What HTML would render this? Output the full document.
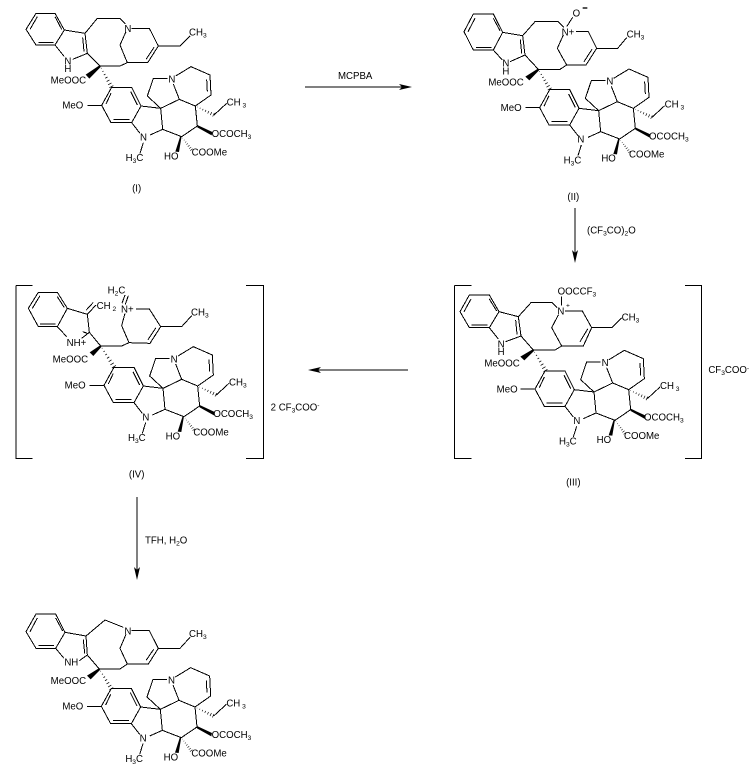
<!DOCTYPE html>
<html><head><meta charset="utf-8"><style>
html,body{margin:0;padding:0;background:#fff;width:751px;height:772px;overflow:hidden}
svg{display:block}
text{font-family:"Liberation Sans",Arial,sans-serif;font-size:29px;fill:#000}
.b{fill:none;stroke:#000;stroke-width:3;shape-rendering:crispEdges}
.s{font-size:20px}
</style></head><body>
<svg width="751" height="772" viewBox="0 0 751 772" xmlns="http://www.w3.org/2000/svg">
<defs>
<g id="h" fill="none" stroke="#000" stroke-width="2.400"><path d="M8-1V1M19-2V2M30-3V3M41-4V4M52-5V5M63-6V6M73-7V7"/></g>
<g id="low">
<path class="b" d="M305 262L365 262L393 318L365 368L303 368L275 316Z M303 280L288 312 M362 275L382 315 M310 358L358 358 M275 316L232 316 M393 318L452 325L458 388L420 405 M365 368L390 400 M400 428L390 460 M452 325L508 298L556 318L562 378L515 410L458 388 M452 325L412 288L430 235L472 235 M490 252L508 298 M497 228L543 200L600 225L603 285L556 318 M590 238L592 275 M612 345L650 310"/>
<use href="#h" transform="translate(556,318) rotate(25.700) scale(.83)"/>
<use href="#h" transform="translate(515,410) rotate(53) scale(.67)"/>
<polygon points="562,375 562,382 605,406 607,396"/>
<polygon points="515,408 511,408 496,455 507,456"/>
</g>
</defs>

<!-- (I) -->
<g transform="translate(10,0) scale(.33333)">
<use href="#low"/>
<path class="b" d="M78 40L135 40L163 90L135 135L78 135L48 88Z M60 88L82 50 M135 50L155 88 M85 127L130 127 M163 90L225 100L232 160L188 178 M135 135L163 170 M218 112L222 155 M225 100L262 55L330 55L346 72 M348 95L330 135L352 188 M365 85L418 85L445 138L413 188L352 188L330 198L270 198L232 160 M432 142L408 178 M445 138L510 138L540 108"/>
<polygon points="270,195 272,201 238,236 227,224"/>
<use href="#h" transform="translate(270,198) rotate(61.300) scale(.97)"/>
<text x="343" y="96">N</text><text x="537" y="106">CH<tspan class="s" dy="6">3</tspan></text>
<text x="163" y="193">N</text><text x="163" y="216">H</text><text x="122" y="250">MeOOC</text>
<text x="157" y="326">MeO</text><text x="390" y="421">N</text><text x="347" y="483">H<tspan class="s" dy="6">3</tspan><tspan dy="-6">C</tspan></text>
<text x="475" y="247">N</text><text x="650" y="316">CH<tspan class="s" dy="6"> 3</tspan></text>
<text x="605" y="411">OCOCH<tspan class="s" dy="6">3</tspan></text><text x="462" y="478">HO</text><text x="545" y="466">COOMe</text>
<text x="380" y="575" text-anchor="middle">(I)</text>
</g>

<!-- (II) -->
<g transform="translate(450,0) scale(.33333)">
<g transform="translate(-6,7)"><use href="#low"/>
<text x="158" y="326">MeO</text><text x="388" y="421">N</text><text x="347" y="483">H<tspan class="s" dy="6">3</tspan><tspan dy="-6">C</tspan></text>
<text x="475" y="247">N</text><text x="650" y="316">CH<tspan class="s" dy="6"> 3</tspan></text>
<text x="603" y="411">OCOCH<tspan class="s" dy="6">3</tspan></text><text x="460" y="478">HO</text><text x="543" y="466">COOMe</text></g>
<path class="b" d="M70 42L130 42L158 97L130 150L70 150L42 95Z M54 95L75 55 M130 55L150 92 M78 142L125 142 M158 97L218 107L225 165L180 185 M130 150L157 180 M211 118L215 160 M218 107L255 65L325 65L342 82 M340 105L322 145L350 195 M378 95L415 95L440 145L408 195L350 195L330 208L265 208L225 165 M426 148L402 185 M440 145L503 145L530 113 M350 80L368 52"/>
<polygon points="265,205 267,211 238,241 226,230"/>
<use href="#h" transform="translate(265,208) rotate(60) scale(.93)"/>
<rect x="398" y="22" width="14" height="4"/>
<text x="368" y="50">O</text><text x="335" y="106">N+</text><text x="530" y="113">CH<tspan class="s" dy="6">3</tspan></text>
<text x="157" y="200">N</text><text x="157" y="224">H</text><text x="115" y="257">MeOOC</text>
<text x="370" y="600" text-anchor="middle">(II)</text>
</g>

<!-- (III) -->
<g transform="translate(445,275) scale(.33333)">
<g transform="translate(-5,26)"><use href="#low"/>
<text x="160" y="326">MeO</text><text x="390" y="421">N</text><text x="347" y="483">H<tspan class="s" dy="6">3</tspan><tspan dy="-6">C</tspan></text>
<text x="475" y="247">N</text><text x="650" y="316">CH<tspan class="s" dy="6"> 3</tspan></text>
<text x="602" y="411">OCOCH<tspan class="s" dy="6">3</tspan></text><text x="460" y="478">HO</text><text x="542" y="466">COOMe</text></g>
<path class="b" d="M73 60L133 60L162 110L133 158L73 158L45 110Z M57 110L78 72 M133 72L155 108 M80 150L128 150 M162 110L220 125L228 183L182 200 M133 158L160 192 M212 135L216 178 M220 125L258 83L322 83L337 98 M340 120L320 158L350 213 M360 108L412 108L440 158L415 213L350 213L330 225L265 225L228 183 M428 162L405 200 M440 158L500 158L530 128 M350 92L350 65 M28 32L80 32 M28 32V550H80 M720 32H770V550H720"/>
<polygon points="265,222 267,228 238,256 226,245"/>
<use href="#h" transform="translate(265,225) rotate(59.300) scale(.98)"/>
<text x="338" y="58">OOCCF<tspan class="s" dy="6">3</tspan></text><text x="337" y="119">N</text><text class="s" x="363" y="97">+</text><text x="530" y="136">CH<tspan class="s" dy="6">3</tspan></text>
<text x="158" y="217">N</text><text x="158" y="240">H</text><text x="118" y="275">MeOOC</text>
<text x="790" y="294">CF<tspan class="s" dy="6">3</tspan><tspan dy="-6">COO</tspan><tspan class="s" dy="-8">-</tspan></text>
<text x="385" y="631" text-anchor="middle">(III)</text>
</g>

<!-- (IV) -->
<g transform="translate(10,275) scale(.33333)">
<g transform="translate(7,15)"><use href="#low"/>
<text x="157" y="326">MeO</text><text x="390" y="421">N</text><text x="347" y="483">H<tspan class="s" dy="6">3</tspan><tspan dy="-6">C</tspan></text>
<text x="475" y="247">N</text><text x="650" y="316">CH<tspan class="s" dy="6">3</tspan></text>
<text x="603" y="411">OCOCH<tspan class="s" dy="6">3</tspan></text><text x="460" y="478">HO</text><text x="543" y="466">COOMe</text></g>
<path class="b" d="M85 52L142 52L172 100L142 155L85 155L55 100Z M67 100L90 62 M142 65L163 98 M90 147L137 147 M172 100L232 118L238 172L215 190 M142 155L170 185 M218 170L232 175 M232 118L258 90 M228 106L250 82 M238 172L272 213L335 213L357 203L335 152L345 115 M378 102L418 102L452 155L420 205L357 203 M438 158L414 194 M452 155L515 155L545 122 M336 85L345 60 M346 88L355 62 M18 32H68 M18 32V550H68 M708 32H760V550H708"/>
<polygon points="272,210 274,216 250,243 239,232"/>
<use href="#h" transform="translate(272,213) rotate(57.400) scale(1.010)"/>
<text x="293" y="56">H<tspan class="s" dy="6">2</tspan><tspan dy="-6">C</tspan></text><text x="333" y="113">N+</text>
<text x="260" y="102">CH<tspan class="s" dy="6"> 2</tspan></text><text x="543" y="122">CH<tspan class="s" dy="6">3</tspan></text>
<text x="170" y="213">NH+</text><text x="128" y="262">MeOOC</text>
<text x="782" y="406">2 CF<tspan class="s" dy="6">3</tspan><tspan dy="-6">COO</tspan><tspan class="s" dy="-8">-</tspan></text>
<text x="380" y="607" text-anchor="middle">(IV)</text>
</g>

<!-- bottom -->
<g transform="translate(10,600) scale(.33333)">
<g transform="translate(-1,3)"><use href="#low"/>
<text x="158" y="326">MeO</text><text x="390" y="421">N</text><text x="347" y="483">H<tspan class="s" dy="6">3</tspan><tspan dy="-6">C</tspan></text>
<text x="475" y="247">N</text><text x="650" y="316">CH<tspan class="s" dy="6"> 3</tspan></text>
<text x="606" y="411">OCOCH<tspan class="s" dy="6">3</tspan></text><text x="462" y="478">HO</text><text x="545" y="466">COOMe</text></g>
<path class="b" d="M78 42L137 42L165 97L137 145L78 145L48 95Z M60 95L82 54 M137 54L158 93 M85 137L132 137 M165 97L228 108L232 165L208 182 M137 145L162 175 M220 118L224 160 M228 108L285 60L340 82 M348 103L330 145L352 192 M365 92L418 92L445 145L415 192L352 192L330 207L268 207L232 165 M431 148L409 180 M445 145L510 145L540 112"/>
<polygon points="268,204 270,210 242,238 231,227"/>
<use href="#h" transform="translate(268,207) rotate(58.800) scale(.95)"/>
<text x="343" y="103">N</text><text x="537" y="111">CH<tspan class="s" dy="6">3</tspan></text>
<text x="163" y="197">NH</text><text x="122" y="252">MeOOC</text>
</g>

<!-- arrows -->
<g class="b" style="stroke-width:1">
<path d="M305 87H405 M575 208V255 M408 370H315 M137 497V572"/>
</g>
<polygon points="412,87 399,84 402,87 399,90"/>
<polygon points="575,263 572,250 575,253 578,250"/>
<polygon points="308,370 321,367 318,370 321,373"/>
<polygon points="137,580 134,567 137,570 140,567"/>
<g transform="scale(.33333)">
<text x="1014" y="237">MCPBA</text>
<text x="1761" y="700">(CF<tspan class="s" dy="6">3</tspan><tspan dy="-6">CO)</tspan><tspan class="s" dy="6">2</tspan><tspan dy="-6">O</tspan></text>
<text x="435" y="1630">TFH, H<tspan class="s" dy="6">2</tspan><tspan dy="-6">O</tspan></text>
</g>
</svg>
</body></html>
